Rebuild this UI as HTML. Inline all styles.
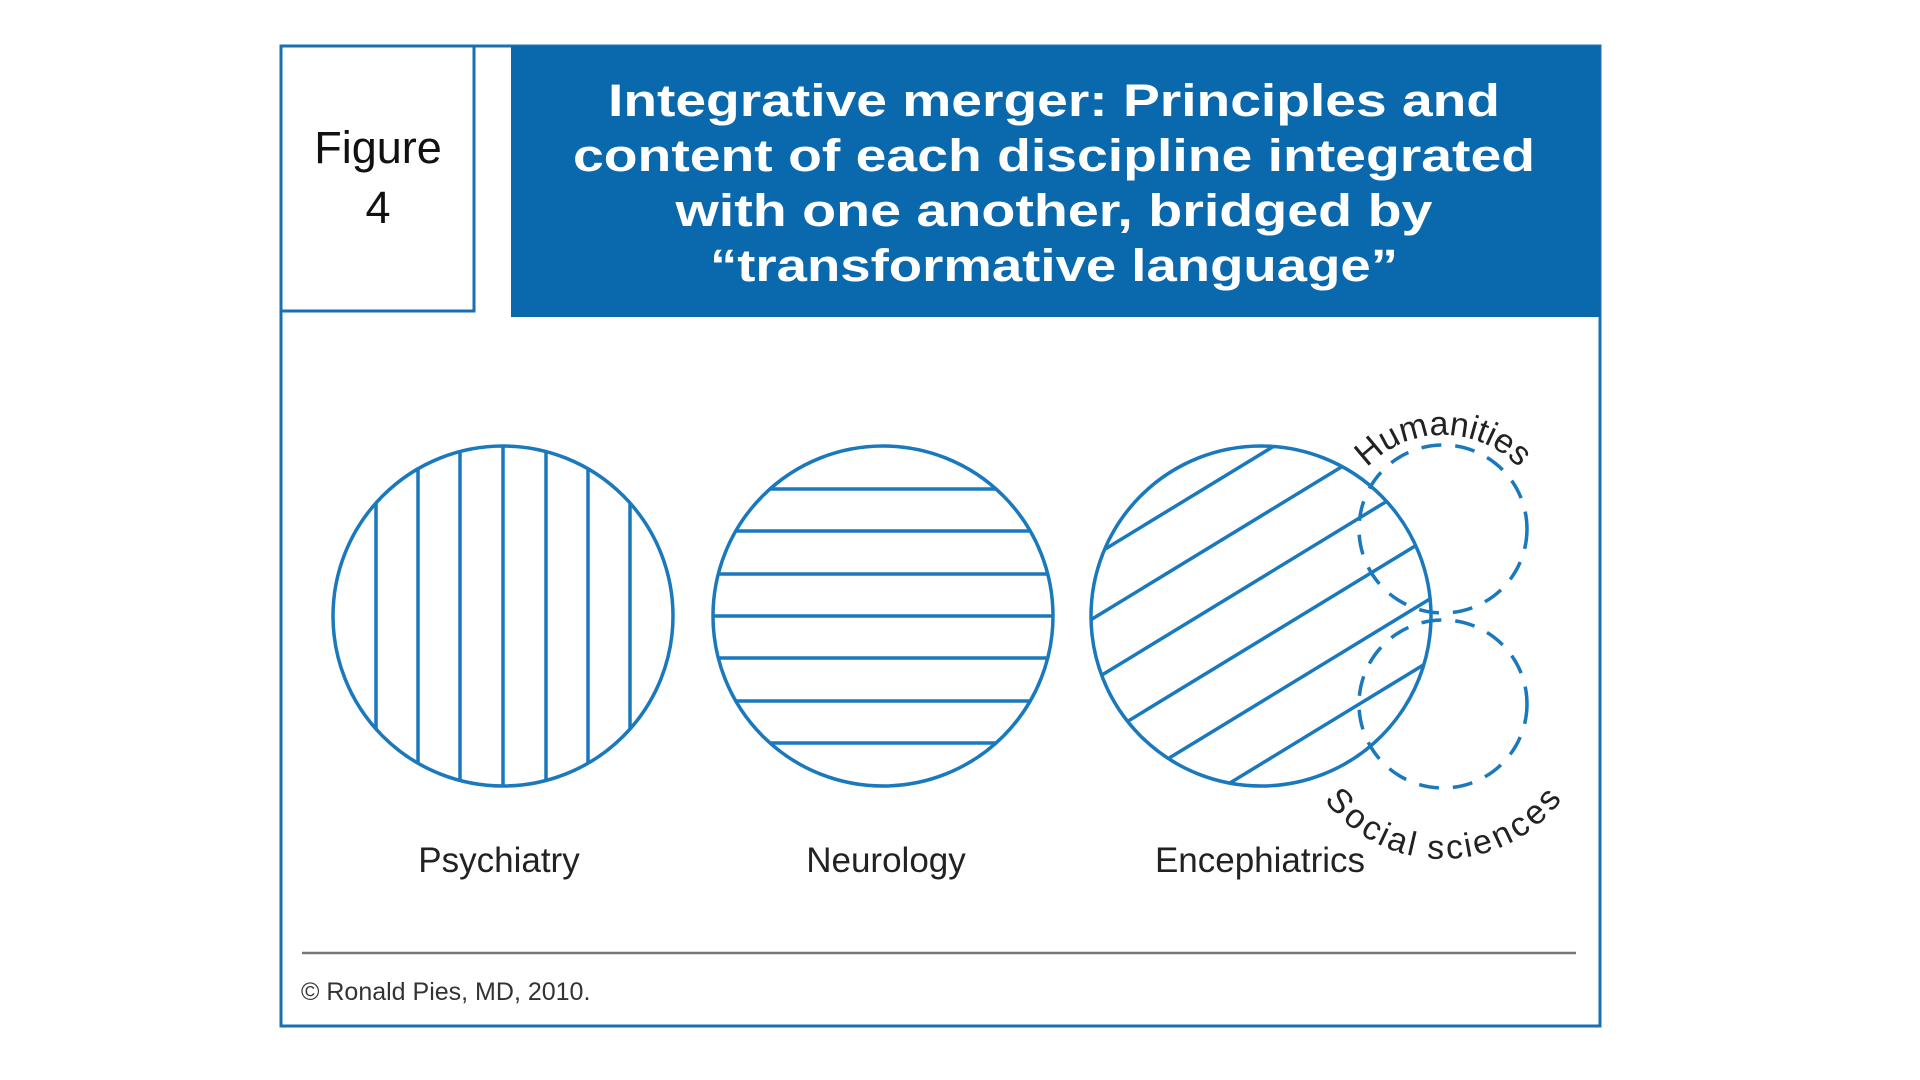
<!DOCTYPE html>
<html><head><meta charset="utf-8"><style>
body{margin:0;background:#fff;}
svg{display:block;}
</style></head><body>
<svg width="1920" height="1080" viewBox="0 0 1920 1080" xmlns="http://www.w3.org/2000/svg">
<defs>
<clipPath id="c1"><circle cx="503" cy="616" r="170"/></clipPath>
<clipPath id="c2"><circle cx="883" cy="616" r="170"/></clipPath>
<clipPath id="c3"><circle cx="1261" cy="616" r="170"/></clipPath>
<path id="hum" d="M1339,539 A104,104 0 0 1 1547,539" fill="none"/>
<path id="soc" d="M1318,710 A125,125 0 0 0 1568,710" fill="none"/>
</defs>
<rect x="0" y="0" width="1920" height="1080" fill="#fff"/>
<rect x="281" y="46" width="1319" height="980" fill="none" stroke="#1a6fb0" stroke-width="3"/>
<rect x="281" y="46" width="193" height="265" fill="#fff" stroke="#1a6fb0" stroke-width="3"/>
<text x="378" y="163" font-family="Liberation Sans, sans-serif" font-size="45" text-anchor="middle" fill="#111">Figure</text>
<text x="378" y="223" font-family="Liberation Sans, sans-serif" font-size="45" text-anchor="middle" fill="#111">4</text>
<rect x="511" y="46" width="1089" height="271" fill="#0a68ad"/>
<g font-family="Liberation Sans, sans-serif" font-size="45" font-weight="bold" fill="#fff" text-anchor="middle">
<text x="1054" y="116" textLength="892" lengthAdjust="spacingAndGlyphs">Integrative merger: Principles and</text>
<text x="1054" y="171" textLength="962" lengthAdjust="spacingAndGlyphs">content of each discipline integrated</text>
<text x="1054" y="226" textLength="757" lengthAdjust="spacingAndGlyphs">with one another, bridged by</text>
<text x="1054" y="281" textLength="688" lengthAdjust="spacingAndGlyphs">“transformative language”</text>
</g>
<g stroke="#1a78bd" stroke-width="3.5" fill="none">
<g clip-path="url(#c1)">
<line x1="376" y1="400" x2="376" y2="850"/>
<line x1="418" y1="400" x2="418" y2="850"/>
<line x1="460" y1="400" x2="460" y2="850"/>
<line x1="503" y1="400" x2="503" y2="850"/>
<line x1="546" y1="400" x2="546" y2="850"/>
<line x1="588" y1="400" x2="588" y2="850"/>
<line x1="630" y1="400" x2="630" y2="850"/>
</g>
<circle cx="503" cy="616" r="170"/>
<g clip-path="url(#c2)">
<line x1="700" y1="489" x2="1080" y2="489"/>
<line x1="700" y1="531" x2="1080" y2="531"/>
<line x1="700" y1="574" x2="1080" y2="574"/>
<line x1="700" y1="616" x2="1080" y2="616"/>
<line x1="700" y1="658" x2="1080" y2="658"/>
<line x1="700" y1="701" x2="1080" y2="701"/>
<line x1="700" y1="743" x2="1080" y2="743"/>
</g>
<circle cx="883" cy="616" r="170"/>
<g clip-path="url(#c3)">
<line x1="1061" y1="452" x2="1461" y2="208"/>
<line x1="1061" y1="514" x2="1461" y2="270"/>
<line x1="1061" y1="576" x2="1461" y2="332"/>
<line x1="1061" y1="638" x2="1461" y2="394"/>
<line x1="1061" y1="700" x2="1461" y2="456"/>
<line x1="1061" y1="762" x2="1461" y2="518"/>
<line x1="1061" y1="824" x2="1461" y2="580"/>
<line x1="1061" y1="886" x2="1461" y2="642"/>
<line x1="1061" y1="948" x2="1461" y2="704"/>
<line x1="1061" y1="1010" x2="1461" y2="766"/>
</g>
<circle cx="1261" cy="616" r="170"/>
<circle cx="1443" cy="529" r="84" stroke-dasharray="20 14"/>
<circle cx="1443" cy="704" r="84" stroke-dasharray="20 14"/>
</g>
<g font-family="Liberation Sans, sans-serif" fill="#222">
<text font-size="34"><textPath href="#hum" startOffset="50%" text-anchor="middle">Humanities</textPath></text>
<text font-size="34" dy="24"><textPath href="#soc" startOffset="50%" text-anchor="middle">Social sciences</textPath></text>
<g font-size="35">
<text x="499" y="872" text-anchor="middle">Psychiatry</text>
<text x="886" y="872" text-anchor="middle">Neurology</text>
<text x="1260" y="872" text-anchor="middle">Encephiatrics</text>
</g>
</g>
<line x1="302" y1="953" x2="1576" y2="953" stroke="#777" stroke-width="2.5"/>
<text x="301" y="1000" font-family="Liberation Sans Narrow, Liberation Sans, sans-serif" font-size="25" fill="#333">© Ronald Pies, MD, 2010.</text>
</svg>
</body></html>
